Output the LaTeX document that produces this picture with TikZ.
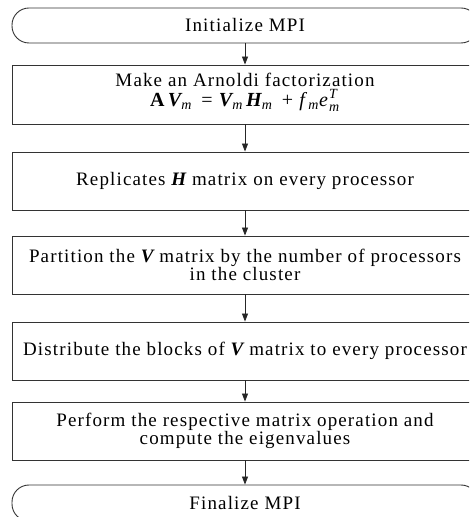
\documentclass[tikz,border=0pt]{standalone}
\usepackage{amsmath}
\usepackage{fontspec}
\setmainfont{Liberation Serif}[LetterSpace=6]
\usetikzlibrary{arrows.meta}
\newcommand{\zl}[1]{\makebox[0pt][c]{#1}}
\newcommand{\bi}[1]{{\bfseries\itshape #1}}
\newcommand{\sbm}{$_{\textit{m}}$}
\begin{document}
\begin{tikzpicture}[x=1pt,y=1pt,
  box/.style={draw=black!80, line width=0.9pt, minimum width=466pt, inner sep=0pt,
    align=center, font=\fontsize{19}{18}\selectfont},
  term/.style={box, rounded corners=17pt, minimum height=35pt},
  proc/.style={box, minimum height=58pt},
  arr/.style={draw=black!85, line width=0.8pt, -{Triangle[length=8pt,width=6pt]}}]
\useasboundingbox (0,0) rectangle (469,517);
\clip (0,0) rectangle (469,517);
\node[term] (init) at (245,491.5) {\zl{Initialize MPI}};
\node[box, minimum height=59pt] (arn) at (245,422.5) {\zl{Make an Arnoldi factorization}\\[2pt]
  \zl{\fontsize{20}{18}\selectfont{\bfseries A}\,\bi{V}\sbm\,\ = \bi{V}\sbm\,\bi{H}\sbm\,\ + \textit{f}\sbm\textit{e}$^{\textit{T}}_{\textit{m}}$}\\[-8pt]};
\node[proc] (rep) at (245,336) {\zl{Replicates \bi{H} matrix on every processor}};
\node[proc] (part) at (245,252) {\zl{Partition the \bi{V} matrix by the number of processors}\\\zl{in the cluster}};
\node[proc] (dist) at (245,166) {\zl{Distribute the blocks of \bi{V} matrix to every processor}};
\node[proc] (perf) at (245,86) {\zl{Perform the respective matrix operation and}\\\zl{compute the eigenvalues}};
\node[term, minimum height=36pt] (fin) at (245,14) {\raisebox{-4pt}{\zl{Finalize MPI}}};
\draw[arr] (init) -- (arn);
\draw[arr] (arn) -- (rep);
\draw[arr] (rep) -- (part);
\draw[arr] (part) -- (dist);
\draw[arr] (dist) -- (perf);
\draw[arr] (perf) -- (fin);
\end{tikzpicture}
\end{document}
